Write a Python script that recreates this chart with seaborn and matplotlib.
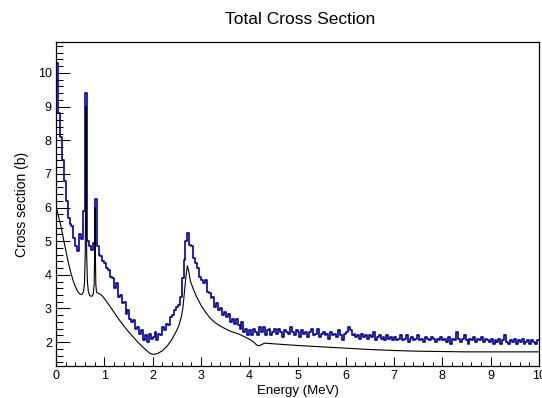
import numpy as np
import pandas as pd
import matplotlib
matplotlib.use("Agg")
import matplotlib.pyplot as plt
from matplotlib.ticker import MultipleLocator
import seaborn as sns

# measured total cross section (b), 0.04 MeV bins from 0 to 10 MeV
measured = [
    10.3, 8.8, 8.1, 7.4, 6.8, 6.2, 5.7, 5.5, 5.45, 5.1, 4.85, 4.7, 5.2, 5.05, 5.9, 9.4, 5.0, 4.85, 4.75, 4.95, 6.25, 4.85, 4.6, 4.55, 4.4,
    4.35, 4.2, 4.15, 3.95, 3.9, 3.6, 3.75, 3.35, 3.4, 3.15, 3.2, 2.85, 2.95, 2.7, 2.6, 2.65, 2.4, 2.45, 2.25, 2.35, 2.05, 2.2, 2.0, 2.25, 2.1,
    2.15, 2.3, 2.05, 2.25, 2.2, 2.45, 2.35, 2.55, 2.5, 2.75, 2.8, 2.95, 3.05, 3.1, 3.35, 3.9, 4.45, 5.0, 5.25, 4.9, 4.85, 4.5, 4.35, 4.2, 3.95,
    3.85, 3.75, 3.85, 3.5, 3.45, 3.3, 3.35, 3.05, 3.15, 2.95, 3.0, 2.8, 2.9, 2.75, 2.85, 2.6, 2.7, 2.55, 2.7, 2.5, 2.4, 2.6, 2.3, 2.4, 2.2,
    2.35, 2.2, 2.4, 2.3, 2.2, 2.45, 2.3, 2.45, 2.2, 2.35, 2.4, 2.2, 2.3, 2.4, 2.25, 2.4, 2.3, 2.15, 2.35, 2.3, 2.25, 2.45, 2.3, 2.2, 2.35,
    2.3, 2.15, 2.35, 2.25, 2.3, 2.15, 2.3, 2.4, 2.2, 2.25, 2.4, 2.15, 2.25, 2.3, 2.2, 2.25, 2.1, 2.3, 2.2, 2.25, 2.15, 2.35, 2.2, 2.05, 2.25,
    2.3, 2.45, 2.35, 2.2, 2.25, 2.15, 2.2, 2.1, 2.25, 2.15, 2.2, 2.1, 2.2, 2.15, 2.3, 2.05, 2.15, 2.2, 2.1, 2.15, 2.05, 2.2, 2.1, 2.15, 2.05,
    2.15, 2.05, 2.1, 2.2, 2.05, 2.1, 2.2, 2.0, 2.1, 2.15, 2.05, 2.1, 2.2, 2.05, 2.1, 2.0, 2.15, 2.1, 2.05, 2.15, 2.1, 2.0, 2.1, 2.05, 2.15,
    2.05, 2.1, 2.0, 2.15, 1.95, 2.1, 2.05, 2.3, 2.1, 2.0, 2.1, 2.2, 2.05, 1.95, 2.1, 2.05, 2.15, 2.0, 2.1, 2.05, 2.15, 2.0, 2.1, 2.05, 2.0,
    2.1, 1.95, 2.05, 2.0, 2.1, 1.95, 2.05, 2.2, 2.0, 1.95, 2.05, 2.0, 2.1, 1.95, 2.05, 2.0, 2.1, 1.95, 2.0, 2.05, 1.95, 2.05, 2.0, 1.95, 2.05,
]

# evaluated cross section curve
modelEnergy = [
    0.0, 0.05, 0.1, 0.15, 0.2, 0.25, 0.3, 0.35, 0.4, 0.45, 0.5, 0.54, 0.57, 0.59, 0.605, 0.615, 0.62, 0.625, 0.635, 0.65,
    0.67, 0.7, 0.74, 0.77, 0.79, 0.8, 0.807, 0.815, 0.825, 0.84, 0.88, 0.92, 0.96, 1.0, 1.1, 1.2, 1.3, 1.4, 1.5, 1.6,
    1.7, 1.8, 1.9, 1.95, 2.0, 2.05, 2.1, 2.2, 2.3, 2.4, 2.5, 2.55, 2.6, 2.63, 2.66, 2.69, 2.72, 2.75, 2.78, 2.85,
    2.9, 3.0, 3.1, 3.2, 3.3, 3.4, 3.5, 3.6, 3.7, 3.8, 3.9, 4.0, 4.08, 4.15, 4.2, 4.25, 4.32, 4.4, 4.6, 4.8,
    5.0, 5.5, 6.0, 6.5, 7.0, 7.5, 8.0, 8.5, 9.0, 9.5, 10.0,
]
modelSigma = [
    6.05, 5.75, 5.45, 5.1, 4.75, 4.4, 4.1, 3.85, 3.65, 3.5, 3.42, 3.42, 3.5, 3.75, 4.6, 6.5, 9.0, 6.5, 4.6, 3.8,
    3.5, 3.38, 3.36, 3.42, 3.7, 4.6, 6.0, 4.6, 3.7, 3.48, 3.45, 3.42, 3.37, 3.3, 3.1, 2.89, 2.68, 2.49, 2.31, 2.15,
    1.99, 1.85, 1.72, 1.66, 1.64, 1.64, 1.66, 1.74, 1.88, 2.08, 2.35, 2.52, 2.78, 3.05, 3.5, 3.95, 4.27, 4.1, 3.82, 3.55,
    3.38, 3.1, 2.88, 2.7, 2.57, 2.48, 2.4, 2.33, 2.28, 2.23, 2.16, 2.09, 2.02, 1.92, 1.89, 1.92, 1.97, 1.96, 1.94, 1.92,
    1.9, 1.86, 1.82, 1.78, 1.75, 1.73, 1.72, 1.71, 1.71, 1.71, 1.71,
]

sns.set_style("ticks")
plt.rcParams["font.family"] = ["Liberation Sans", "DejaVu Sans"]
plt.rcParams["text.color"] = "black"
plt.rcParams["axes.labelcolor"] = "black"

binWidth = 10 / len(measured)
histData = pd.DataFrame({
    "energy": (np.arange(len(measured)) + 0.5) * binWidth,
    "sigma": measured,
})
modelData = pd.DataFrame({"energy": modelEnergy, "sigma": modelSigma})

fig = plt.figure(figsize=(5.42, 3.98), dpi=100)
ax = fig.add_axes([56 / 542, 32 / 398, 483 / 542, 324 / 398])

sns.histplot(data=histData, x="energy", weights="sigma", binwidth=binWidth, binrange=(0, 10),
             element="step", fill=False, color="#000099", linewidth=1.2, ax=ax)
sns.lineplot(data=modelData, x="energy", y="sigma", color="black", linewidth=0.8, ax=ax)

ax.set_xlim(0, 10)
ax.set_ylim(1.29, 10.92)
ax.xaxis.set_major_locator(MultipleLocator(1))
ax.xaxis.set_minor_locator(MultipleLocator(0.2))
ax.yaxis.set_major_locator(MultipleLocator(1))
ax.yaxis.set_minor_locator(MultipleLocator(0.2))

ax.tick_params(which="both", direction="in", top=False, right=False, width=0.75,
               labelsize=9, pad=3, colors="black")
ax.tick_params(axis="x", which="major", length=6.8)
ax.tick_params(axis="x", which="minor", length=3.2)
ax.tick_params(axis="y", which="major", length=10)
ax.tick_params(axis="y", which="minor", length=5)

for s in ax.spines.values():
    s.set_linewidth(0.9)
    s.set_color("black")

ax.set_xlabel("Energy (MeV)", fontsize=9.5, labelpad=2)
ax.set_ylabel("Cross section (b)", fontsize=10)
ax.yaxis.set_label_coords(-27 / 483, 0.5)
ax.set_title("Total Cross Section", fontsize=12.5, pad=13, x=0.505)

plt.savefig("out.png", dpi=100)
plt.close("all")
